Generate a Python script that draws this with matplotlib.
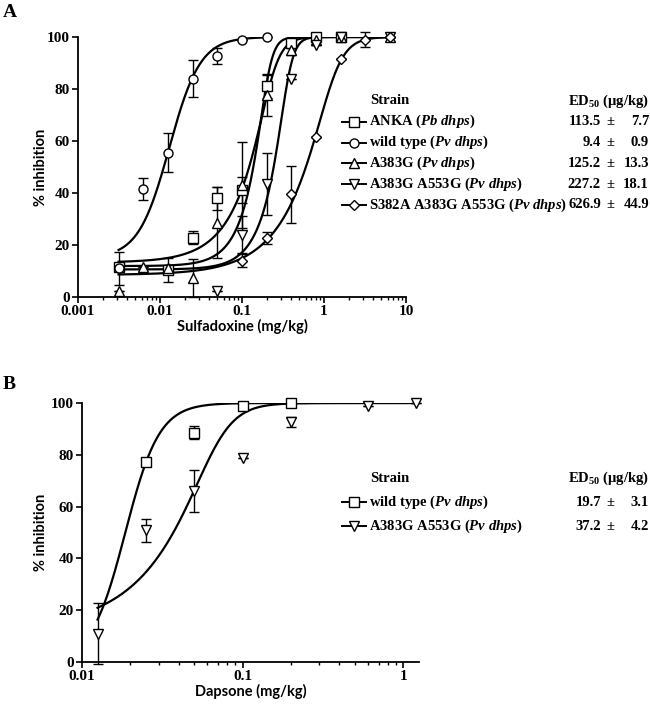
import numpy as np
import matplotlib
matplotlib.use('Agg')
import matplotlib.pyplot as plt
from matplotlib.ticker import FixedLocator, LogLocator, NullFormatter, FixedFormatter

plt.rcParams['font.family'] = ['Liberation Serif', 'DejaVu Serif']
plt.rcParams['font.weight'] = 'bold'
plt.rcParams['mathtext.fontset'] = 'custom'
plt.rcParams['mathtext.rm'] = 'Liberation Serif:bold'
plt.rcParams['mathtext.it'] = 'Liberation Serif:italic:bold'
plt.rcParams['mathtext.bf'] = 'Liberation Serif:bold'
plt.rcParams['mathtext.default'] = 'rm'

# ---------------- Panel A: sulfadoxine ----------------
strains_a = [r'ANKA ($\mathit{Pb\ dhps}$)',
             r'wild type ($\mathit{Pv\ dhps}$)',
             r'A383G ($\mathit{Pv\ dhps}$)',
             r'A383G A553G ($\mathit{Pv\ dhps}$)',
             r'S382A A383G A553G ($\mathit{Pv\ dhps}$)']
ed50_a = ['113.5', '9.4', '125.2', '227.2', '626.9']
ed50_sd_a = ['7.7', '0.9', '13.3', '18.1', '44.9']
markers_a = ['s', 'o', '^', 'v', 'D']

# points (mg/kg, % inhibition, SEM)
anka_x = [0.003125, 0.0125, 0.025, 0.05, 0.1, 0.2, 0.4, 0.8, 1.6]
anka_y = [11.5, 10.4, 22.7, 38, 41, 81, 97.7, 100, 100]
anka_e = [0, 4.6, 2.5, 4.5, 5, 4.5, 2, 0, 0]

wt_x = [0.003125, 0.00625, 0.0125, 0.025, 0.05, 0.1, 0.2]
wt_y = [11, 41.5, 55.5, 84, 92.7, 98.8, 100]
wt_e = [6.4, 4.3, 7.6, 7, 3, 0, 0]

a383_x = [0.003125, 0.00625, 0.0125, 0.025, 0.05, 0.1, 0.2, 0.4, 0.8, 1.6, 6.4]
a383_y = [2.5, 11.5, 11, 7.3, 28.6, 43, 77.7, 95, 99, 100, 100]
a383_e = [0, 0, 0, 7.3, 13.6, 16.5, 8, 2, 0, 0, 0]

dbl_x = [0.05, 0.1, 0.2, 0.4, 0.8, 1.6, 6.4]
dbl_y = [2.4, 24, 43.5, 84, 97, 100, 100]
dbl_e = [0, 7, 12, 0, 0, 0, 0]

tri_x = [0.1, 0.2, 0.4, 0.8, 1.6, 3.2, 6.4]
tri_y = [14, 22.7, 39.5, 61.5, 91.5, 99, 100]
tri_e = [2.5, 2.3, 11, 0, 0, 3, 0]

# fitted curves: bottom, midpoint (mg/kg), hill slope, asymmetry, dose range
fit_bottom_a = [13.3, 15, 11.9, 10.6, 8.5]
fit_ec_a = [0.228, 0.013, 0.203, 0.36, 1.25]
fit_hill_a = [4.5, 2.3, 7, 6.8, 3.5]
fit_asym_a = [0.3, 1, 0.3, 0.3, 0.3]
fit_lo_a = [0.003125] * 5
fit_hi_a = [6.4, 0.2, 6.4, 6.4, 6.4]

# ---------------- Panel B: dapsone ----------------
strains_b = [r'wild type ($\mathit{Pv\ dhps}$)',
             r'A383G A553G ($\mathit{Pv\ dhps}$)']
ed50_b = ['19.7', '37.2']
ed50_sd_b = ['3.1', '4.2']
markers_b = ['s', 'v']

wtb_x = [0.025, 0.05, 0.1, 0.2]
wtb_y = [77.2, 88.6, 98.7, 100]
wtb_e = [1, 2.6, 0.8, 0]

dblb_x = [0.0125, 0.025, 0.05, 0.1, 0.2, 0.6, 1.2]
dblb_y = [11, 50.8, 66, 78.8, 92.7, 99, 100]
dblb_e = [11.8, 4.6, 8, 0, 2, 0, 0]

fit_bottom_b = [0, 12]
fit_ec_b = [0.0186, 0.068]
fit_hill_b = [4.1, 4.5]
fit_asym_b = [1, 0.3]
fit_lo_b = [0.0125, 0.0125]
fit_hi_b = [1.2, 1.2]


def logistic(x, bottom, ec, hill, asym):
    return bottom + (100 - bottom) / (1 + (ec / x) ** hill) ** asym


def style_axis(ax, xlim, xticks, xlabels, xlabel, ylab_x, xlab_y):
    ax.set_xscale('log')
    ax.set_xlim(*xlim)
    ax.set_ylim(0, 100)
    for s in ['top', 'right']:
        ax.spines[s].set_visible(False)
    for s in ['left', 'bottom']:
        ax.spines[s].set_linewidth(1.3)
    ax.xaxis.set_major_locator(FixedLocator(xticks))
    ax.xaxis.set_major_formatter(FixedFormatter(xlabels))
    ax.xaxis.set_minor_locator(LogLocator(base=10, subs=np.arange(2, 10)))
    ax.xaxis.set_minor_formatter(NullFormatter())
    ax.set_yticks([0, 20, 40, 60, 80, 100])
    ax.tick_params(which='major', length=4, width=1.2, labelsize=11, pad=2)
    ax.tick_params(which='minor', length=2.5, width=1.0)
    ax.set_xlabel(xlabel, fontsize=10.5, family='Lato', weight='bold')
    ax.set_ylabel('% inhibition', fontsize=10.5, family='Lato', weight='bold')
    ax.yaxis.set_label_coords(ylab_x, 0.5)
    ax.xaxis.set_label_coords(0.5, xlab_y)


def draw_series(ax, x, y, e, marker):
    ax.errorbar(x, y, yerr=e, fmt=marker, mfc='white', mec='black', mew=1.0,
                ms=6.5 if marker != 'D' else 5.5, ecolor='black', elinewidth=1.0,
                capsize=3.5, capthick=1.0, zorder=3, clip_on=False)


fig = plt.figure(figsize=(6.5, 7.04), dpi=100)

axA = fig.add_axes([78 / 650, 1 - 297 / 704, (406 - 78) / 650, (297 - 37) / 704])
style_axis(axA, (0.001, 10), [0.001, 0.01, 0.1, 1, 10],
           ['0.001', '0.01', '0.1', '1', '10'], 'Sulfadoxine (mg/kg)', -0.09, -0.085)
series_a = [(anka_x, anka_y, anka_e), (wt_x, wt_y, wt_e), (a383_x, a383_y, a383_e),
            (dbl_x, dbl_y, dbl_e), (tri_x, tri_y, tri_e)]
for i, (x, y, e) in enumerate(series_a):
    xs = np.logspace(np.log10(fit_lo_a[i]), np.log10(fit_hi_a[i]), 400)
    axA.plot(xs, logistic(xs, fit_bottom_a[i], fit_ec_a[i], fit_hill_a[i], fit_asym_a[i]),
             color='black', lw=1.6, zorder=2)
    draw_series(axA, x, y, e, markers_a[i])

axB = fig.add_axes([82 / 650, 1 - 662 / 704, (419 - 82) / 650, (662 - 403) / 704])
style_axis(axB, (0.01, 1.25), [0.01, 0.1, 1], ['0.01', '0.1', '1'], 'Dapsone (mg/kg)',
           -0.1, -0.085)
series_b = [(wtb_x, wtb_y, wtb_e), (dblb_x, dblb_y, dblb_e)]
for i, (x, y, e) in enumerate(series_b):
    xs = np.logspace(np.log10(fit_lo_b[i]), np.log10(fit_hi_b[i]), 400)
    axB.plot(xs, logistic(xs, fit_bottom_b[i], fit_ec_b[i], fit_hill_b[i], fit_asym_b[i]),
             color='black', lw=1.6, zorder=2)
    draw_series(axB, x, y, e, markers_b[i])

# overlay in pixel coordinates for legend tables and panel letters
lax = fig.add_axes([0, 0, 1, 1], zorder=5)
lax.set_xlim(0, 650)
lax.set_ylim(704, 0)
lax.axis('off')
lax.patch.set_alpha(0)

lax.text(3, 4, 'A', fontsize=14, weight='bold', va='top', ha='left')
lax.text(3, 376, 'B', fontsize=14, weight='bold', va='top', ha='left')


def legend_table(y0, strains, markers, ed, sd, step):
    lax.text(370, y0, 'Strain', fontsize=10.5, va='center', ha='left')
    lax.text(649, y0, r'ED$_{50}$ ($\mu$g/kg)', fontsize=10.5, va='center', ha='right')
    for i, name in enumerate(strains):
        y = y0 + step * (i + 1)
        lax.plot([342, 366], [y, y], color='black', lw=1.4)
        lax.plot([354], [y], marker=markers[i], mfc='white', mec='black', mew=1.0,
                 ms=6.5 if markers[i] != 'D' else 5.5)
        lax.text(369, y, name, fontsize=10.5, va='center', ha='left')
        lax.text(601, y, ed[i], fontsize=10.5, va='center', ha='right')
        lax.text(610, y, '±', fontsize=10.5, va='center', ha='center')
        lax.text(649, y, sd[i], fontsize=10.5, va='center', ha='right')


legend_table(101, strains_a, markers_a, ed50_a, ed50_sd_a, 20.8)
legend_table(478, strains_b, markers_b, ed50_b, ed50_sd_b, 24)

fig.savefig('out.png', dpi=100)
